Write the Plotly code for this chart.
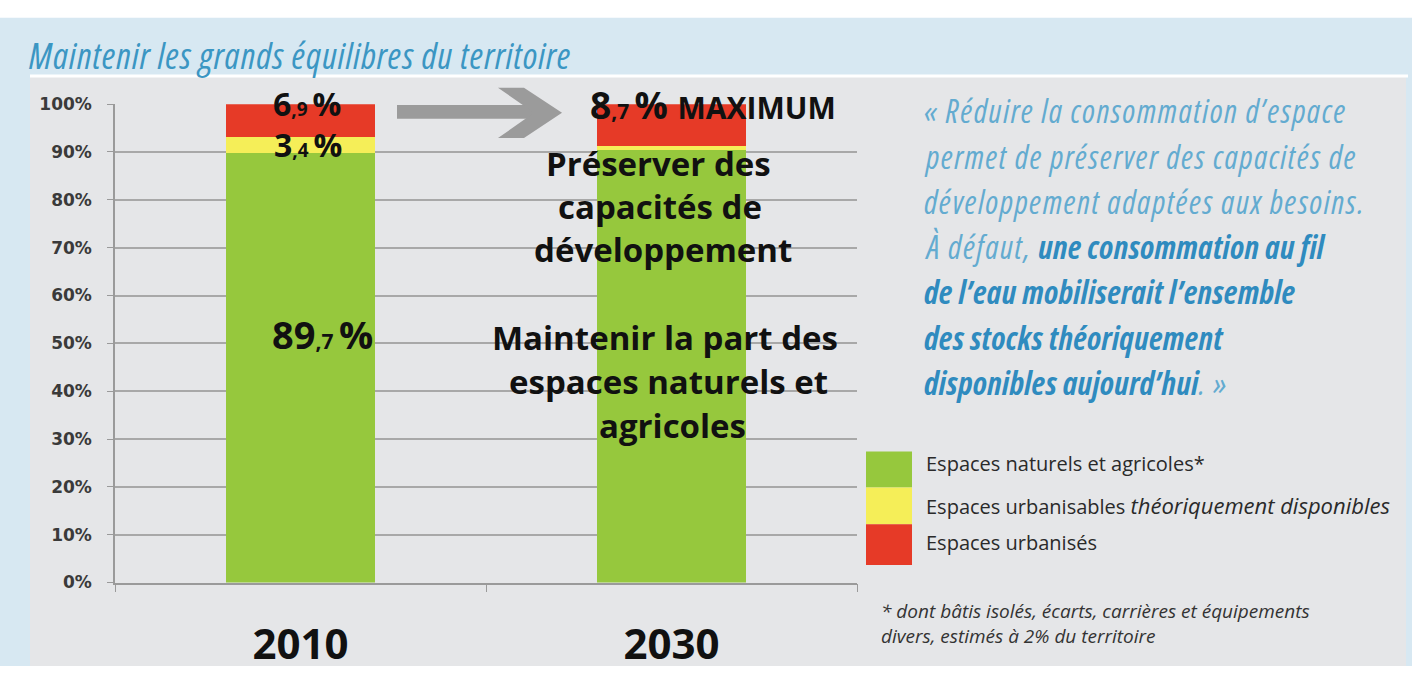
import plotly.graph_objects as go

# ---------------- data ----------------
years = ["2010", "2030"]
naturels = [89.7, 90.5]        # Espaces naturels et agricoles
urbanisables = [3.4, 0.8]      # Espaces urbanisables théoriquement disponibles
urbanises = [6.9, 8.7]         # Espaces urbanisés
y_ticks = [0, 10, 20, 30, 40, 50, 60, 70, 80, 90, 100]
y_tick_labels = ["0%", "10%", "20%", "30%", "40%", "50%", "60%", "70%", "80%", "90%", "100%"]

series_names = ["Espaces naturels et agricoles*",
                "Espaces urbanisables",
                "Espaces urbanisés"]
colors = ["#96c83d", "#f5ee58", "#e63a27"]

W, H = 1412, 676


def px(x):
    return x / W


def py(y):
    return 1 - y / H


fig = go.Figure()
for vals, name, col in zip([naturels, urbanisables, urbanises], series_names, colors):
    fig.add_trace(go.Bar(x=years, y=vals, name=name, marker=dict(color=col, line=dict(width=0)),
                         showlegend=False, hoverinfo="skip"))

shapes = []
# backgrounds
shapes.append(dict(type="rect", xref="paper", yref="paper", x0=0, x1=1, y0=0, y1=py(8),
                   fillcolor="#d7e8f2", line=dict(width=0), layer="below"))
shapes.append(dict(type="rect", xref="paper", yref="paper", x0=px(30), x1=px(1406), y0=0, y1=py(69),
                   fillcolor="#e5e6e8", line=dict(width=0), layer="below"))
shapes.append(dict(type="line", xref="paper", yref="paper", x0=px(30), x1=px(1408), y0=py(68), y1=py(68),
                   line=dict(color="#ffffff", width=3), layer="below"))
# arrow
shapes.append(dict(type="rect", xref="paper", yref="paper", x0=px(397), x1=px(536), y0=py(112), y1=py(98),
                   fillcolor="#9b9b9b", line=dict(width=0)))
chev = [(498, 80), (524, 80), (562, 106), (524, 132), (498, 132), (534, 106)]
path = "M " + " L ".join(f"{px(a):.5f},{py(b):.5f}" for a, b in chev) + " Z"
shapes.append(dict(type="path", xref="paper", yref="paper", path=path,
                   fillcolor="#9b9b9b", line=dict(width=0)))
# legend colour strip
leg_rows = [(455, 492), (492, 530), (530, 572)]
for (y0, y1), col in zip(leg_rows, colors):
    shapes.append(dict(type="rect", xref="paper", yref="paper", x0=px(866), x1=px(912),
                       y0=py(y1), y1=py(y0), fillcolor=col, line=dict(width=0)))

ann = []
BOLD_FONT = "Open Sans, Noto Sans, sans-serif"
TITLE_FONT = "Open Sans, sans-serif"
STRETCH = "font-stretch:75%"


def label(text, x, y, size=28, xanchor="center", yanchor="middle", color="#111111", family=BOLD_FONT):
    ann.append(dict(text=text, x=px(x), y=py(y), xref="paper", yref="paper", showarrow=False,
                    xanchor=xanchor, yanchor=yanchor, font=dict(size=size, color=color, family=family)))


def pct(v, small=20):
    a, b = f"{v:.1f}".split(".")
    return f"{a}<span style='font-size:{small}px'>,{b} </span>%"


label(f"<b>{pct(urbanises[0], 19)}</b>", 307, 96, size=32)
label(f"<b>{pct(urbanisables[0], 19)}</b>", 308, 139, size=32)
label(f"<b>{pct(naturels[0], 21)}</b>", 322, 334, size=38)
label(f"<b>{pct(urbanises[1], 21)} <span style='font-size:30px'>MAXIMUM</span></b>", 713, 97, size=37)

for t, yy, xx in [("Préserver des", 158, 658), ("capacités de", 203, 660), ("développement", 247, 663),
                  ("Maintenir la part des", 337, 665), ("espaces naturels et", 383, 668),
                  ("agricoles", 428, 672)]:
    label(f"<b>{t}</b>", xx, yy, size=33)

# title
label(f"<i><span style='{STRETCH};font-weight:400;letter-spacing:1px'>"
      f"Maintenir les grands équilibres du territoire</span></i>",
      27, 47, size=36, xanchor="left", color="#3b96c3", family=TITLE_FONT)

# quote
light = "#63abd0"
dark = "#2f8bbf"
LW = "font-weight:400;letter-spacing:1.5px"
BW = "letter-spacing:0.3px"
quote = [
    f"<span style='color:{light};{LW}'>« Réduire la consommation d’espace</span>",
    f"<span style='color:{light};{LW}'>permet de préserver des capacités de</span>",
    f"<span style='color:{light};{LW}'>développement adaptées aux besoins.</span>",
    f"<span style='color:{light};{LW}'>À défaut, </span><b><span style='{BW}'>une consommation au fil</span></b>",
    f"<b><span style='{BW}'>de l’eau mobiliserait l’ensemble</span></b>",
    f"<b><span style='{BW}'>des stocks théoriquement</span></b>",
    f"<b><span style='{BW}'>disponibles aujourd’hui</span></b><span style='color:{light};{LW}'>. »</span>",
]
for i, q in enumerate(quote):
    label(f"<i><span style='{STRETCH}'>{q}</span></i>", 922, 104 + i * 46.6, size=32, xanchor="left",
          color=dark, family=TITLE_FONT)

# legend texts
label("Espaces naturels et agricoles*", 924, 467, size=20, xanchor="left", color="#2a2a2a")
label("Espaces urbanisables <i><span style='font-size:22px'>théoriquement disponibles</span></i>", 924, 510,
      size=20, xanchor="left", color="#2a2a2a")
label("Espaces urbanisés", 924, 549, size=20, xanchor="left", color="#2a2a2a")

# footnote
label("<i>* dont bâtis isolés, écarts, carrières et équipements</i>", 879, 619, size=19, xanchor="left",
      color="#333333")
label("<i>divers, estimés à 2% du territoire</i>", 879, 645, size=19, xanchor="left", color="#333333")

fig.update_layout(
    width=W, height=H, autosize=False,
    margin=dict(l=0, r=0, t=0, b=0),
    paper_bgcolor="#ffffff", plot_bgcolor="#ffffff",
    barmode="stack", bargap=0.6,
    shapes=shapes, annotations=ann,
    xaxis=dict(domain=[px(115), px(857)], type="category", tickson="boundaries", ticks="outside",
               ticklen=8, tickcolor="#9a9a9a", showline=True, linecolor="#9a9a9a", linewidth=1.5,
               showgrid=False,
               tickfont=dict(size=42, color="#111111", family=BOLD_FONT, weight="bold"),
               ticklabelstandoff=24),
    yaxis=dict(domain=[py(590), py(97)], range=[0, 100], tickmode="array", tickvals=y_ticks,
               ticktext=y_tick_labels,
               showgrid=True, gridcolor="#a8a8a8", gridwidth=1.5, zeroline=False,
               showline=True, linecolor="#9a9a9a", linewidth=1.5, ticks="outside", ticklen=6,
               tickcolor="#9a9a9a", ticklabelstandoff=12,
               tickfont=dict(size=17, color="#3a3a3a", family="DejaVu Sans, sans-serif", weight="bold")),
)

post = ("document.body.style.margin='0px';"
        "document.documentElement.style.overflow='hidden';"
        "var d=document.getElementById('{plot_id}');"
        "d.style.position='fixed';d.style.top='0px';d.style.left='0px';")
fig.write_html("out.html", post_script=post, config={"displayModeBar": False})
